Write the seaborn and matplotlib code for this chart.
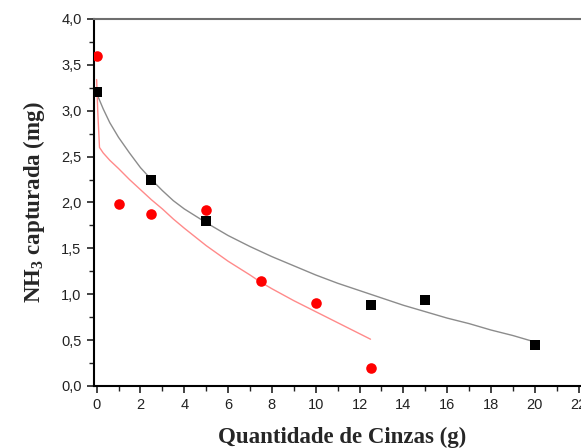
import pandas as pd
import seaborn as sns
import matplotlib.pyplot as plt
from matplotlib.ticker import MultipleLocator, FuncFormatter

# measured points
black_x = [0, 2.5, 5, 12.5, 15, 20]
black_y = [3.20, 2.24, 1.80, 0.88, 0.94, 0.45]
red_x = [0, 1, 2.5, 5, 7.5, 10, 12.5]
red_y = [3.60, 1.98, 1.88, 1.92, 1.14, 0.91, 0.20]

# fitted curves
black_fit_x = [0, 0.3, 0.6, 1, 1.5, 2, 2.5, 3, 3.5, 4, 5, 6, 7, 8, 9, 10,
               11, 12, 13, 14, 15, 16, 17, 18, 19, 20]
black_fit_y = [3.19, 3.02, 2.87, 2.71, 2.54, 2.38, 2.25, 2.13, 2.02, 1.93,
               1.78, 1.64, 1.52, 1.41, 1.31, 1.21, 1.12, 1.04, 0.96, 0.88,
               0.81, 0.74, 0.68, 0.61, 0.55, 0.48]
red_fit_x = [0, 0.05, 0.13, 0.3, 0.6, 1, 1.5, 2, 2.5, 3, 3.5, 4, 5, 6, 7,
             7.5, 8, 9, 10, 11, 12, 12.5]
red_fit_y = [3.34, 3.00, 2.60, 2.54, 2.46, 2.37, 2.25, 2.14, 2.03, 1.93,
             1.82, 1.72, 1.53, 1.36, 1.21, 1.13, 1.06, 0.93, 0.81, 0.69,
             0.57, 0.51]

sns.set_style("ticks")
plt.rcParams["mathtext.fontset"] = "custom"
plt.rcParams["mathtext.rm"] = "Liberation Serif:bold"
plt.rcParams["mathtext.it"] = "Liberation Serif:bold"
plt.rcParams["mathtext.bf"] = "Liberation Serif:bold"

fig = plt.figure(figsize=(5.81, 4.48), dpi=100)
ax = fig.add_axes([0.1618, 0.1384, 0.853, 0.8192])

black_fit = pd.DataFrame({"x": black_fit_x, "y": black_fit_y})
red_fit = pd.DataFrame({"x": red_fit_x, "y": red_fit_y})
sns.lineplot(data=black_fit, x="x", y="y", sort=False, color="#8c8c8c", lw=1.0, ax=ax)
sns.lineplot(data=red_fit, x="x", y="y", sort=False, color="#ff8a8a", lw=1.0, ax=ax)

sns.scatterplot(x=black_x, y=black_y, marker="s", s=52, color="black",
                edgecolor="black", linewidth=0, ax=ax, zorder=3)
sns.scatterplot(x=red_x, y=red_y, marker="o", s=58, color="#ff0000",
                edgecolor="#ff0000", linewidth=0, ax=ax, zorder=3)

ax.set_xlim(-0.12, 22.5)
ax.set_ylim(0, 4.0)
ax.xaxis.set_major_locator(MultipleLocator(2))
ax.xaxis.set_minor_locator(MultipleLocator(1))
ax.yaxis.set_major_locator(MultipleLocator(0.5))
ax.yaxis.set_minor_locator(MultipleLocator(0.25))
ax.yaxis.set_major_formatter(FuncFormatter(lambda v, p: f"{v:.1f}".replace(".", ",")))
ax.xaxis.set_major_formatter(FuncFormatter(lambda v, p: f"{v:.0f}"))

ax.tick_params(which="major", direction="out", length=5, width=1.2,
               labelsize=10.5, colors="#222222", pad=4)
ax.tick_params(which="minor", direction="out", length=3.5, width=1.0, colors="#222222")
for t in ax.get_xticklabels() + ax.get_yticklabels():
    t.set_fontfamily("Liberation Sans")

for s in ["left", "bottom"]:
    ax.spines[s].set_linewidth(1.5)
    ax.spines[s].set_color("black")
ax.spines["top"].set_linewidth(1.5)
ax.spines["top"].set_color("#6e6e6e")
ax.spines["right"].set_visible(False)

ax.set_xlabel("Quantidade de Cinzas (g)", fontfamily="Liberation Serif",
              fontweight="bold", fontsize=16.5, labelpad=10)
ax.set_ylabel(r"NH$_\mathrm{3}$ capturada (mg)", fontfamily="Liberation Serif",
              fontweight="bold", fontsize=16.5, labelpad=10)

fig.savefig("out.png", dpi=100)
